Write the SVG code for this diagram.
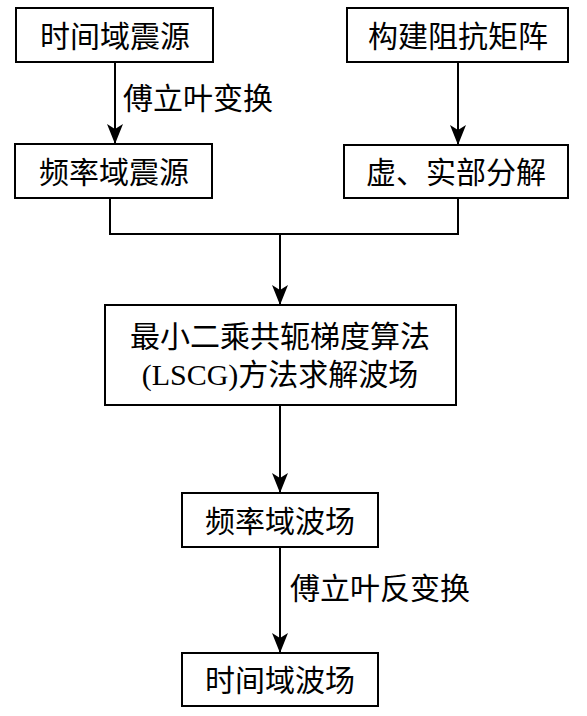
<svg xmlns="http://www.w3.org/2000/svg" width="587" height="716" viewBox="0 0 587 716">
<style>
.box{fill:#fff;stroke:#000;stroke-width:2}
.t{font-family:"Liberation Serif","Noto Sans CJK SC",serif;font-size:30px;fill:#000;text-anchor:middle;dominant-baseline:central}
.lbl{text-anchor:start}
.c{fill:none;stroke:#000;stroke-width:2}
</style>
<defs>
<marker id="ah" markerUnits="userSpaceOnUse" markerWidth="20" markerHeight="16" refX="19" refY="8" orient="auto" viewBox="0 0 20 16">
<path d="M0,0 L20,8 L0,16 L5,8 Z" fill="#000"/>
</marker>
</defs>
<g id="connectors">
<line class="c" x1="115" y1="62" x2="115" y2="143" marker-end="url(#ah)"/>
<line class="c" x1="458" y1="62" x2="458" y2="144" marker-end="url(#ah)"/>
<polyline class="c" points="110,198 110,234 458,234 458,198"/>
<line class="c" x1="280" y1="234" x2="280" y2="304" marker-end="url(#ah)"/>
<line class="c" x1="280" y1="405" x2="280" y2="492" marker-end="url(#ah)"/>
<line class="c" x1="280" y1="547" x2="280" y2="652" marker-end="url(#ah)"/>
<text class="t lbl" x="123" y="98">傅立叶变换</text>
<text class="t lbl" x="290" y="588">傅立叶反变换</text>
</g>
<g id="n1"><rect class="box" x="16" y="8" width="197" height="54"/><text class="t" x="115" y="36">时间域震源</text></g>
<g id="n2"><rect class="box" x="15" y="144" width="197" height="54"/><text class="t" x="114" y="172">频率域震源</text></g>
<g id="n3"><rect class="box" x="347" y="8" width="221" height="54"/><text class="t" x="458" y="36">构建阻抗矩阵</text></g>
<g id="n4"><rect class="box" x="344" y="145" width="224" height="53"/><text class="t" x="456" y="172">虚、实部分解</text></g>
<g id="n5"><rect class="box" x="105" y="305" width="351" height="100"/><text class="t" x="280" y="336">最小二乘共轭梯度算法</text><text class="t" x="280" y="374">(LSCG)方法求解波场</text></g>
<g id="n6"><rect class="box" x="182" y="493" width="196" height="54"/><text class="t" x="280" y="521">频率域波场</text></g>
<g id="n7"><rect class="box" x="182" y="653" width="196" height="53"/><text class="t" x="280" y="680">时间域波场</text></g>
</svg>
